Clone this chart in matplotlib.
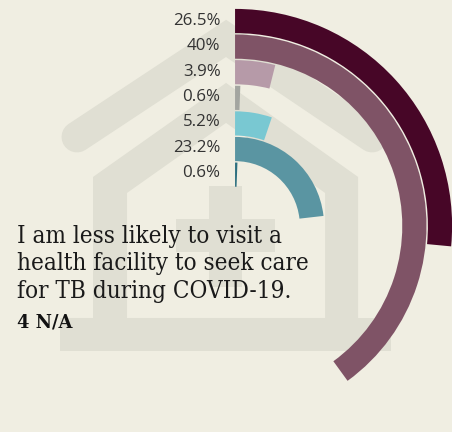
import numpy as np
import matplotlib
matplotlib.use("Agg")
import matplotlib.pyplot as plt
from matplotlib.patches import Polygon, Rectangle

labels = ["26.5%", "40%", "3.9%", "0.6%", "5.2%", "23.2%", "0.6%"]
values = [26.5, 40, 3.9, 0.6, 5.2, 23.2, 0.6]
colors = ["#470627", "#7f5366", "#b69aa8", "#a3a5a0", "#79c8d2", "#5a95a2", "#2d6f7f"]
title_lines = ["I am less likely to visit a", "health facility to seek care", "for TB during COVID-19."]
note = "4 N/A"

W, H = 452, 432
BG = "#f0eee2"
HOUSE = "#e0dfd3"
fig = plt.figure(figsize=((W+0.1)/100, (H+0.1)/100), dpi=100, facecolor=BG)

# background house, pixel coordinates
bg = fig.add_axes([0, 0, 1, 1], facecolor=BG)
bg.set_xlim(0, W); bg.set_ylim(H, 0); bg.axis("off")
bg.plot([77, 226, 372], [137, 38.5, 137], color=HOUSE, lw=22.3, solid_capstyle="round", solid_joinstyle="miter")
bg.add_patch(Polygon([(93, 177), (226, 83), (358, 177), (358, 351), (60, 351), (60, 318), (93, 318)], fc=HOUSE, ec="none"))
bg.add_patch(Polygon([(127, 193), (226, 123), (325, 193), (325, 318), (127, 318)], fc=BG, ec="none"))
bg.add_patch(Rectangle((60, 318), 331, 33, fc=HOUSE, ec="none"))
bg.add_patch(Rectangle((209, 186), 33, 101, fc=HOUSE, ec="none"))
bg.add_patch(Rectangle((176, 219), 99, 33, fc=HOUSE, ec="none"))

# rings
cx, cy, rmax = 235, 226, 230
ax = fig.add_axes([(cx-rmax)/W, 1-(cy+rmax)/H, 2*rmax/W, 2*rmax/H], projection="polar")
ax.patch.set_alpha(0)
ax.set_theta_zero_location("N"); ax.set_theta_direction(-1)
ax.set_ylim(0, rmax); ax.axis("off")
ring_h, ring_step, r_top = 24.2, 25.6, 217
label_top, label_step = 21, 25.3
for i, (v, c) in enumerate(zip(values, colors)):
    r1 = r_top - i*ring_step
    ax.bar(0, ring_h, width=v/100*2*np.pi, bottom=r1-ring_h, align="edge", color=c, linewidth=0)
    bg.text(220.5, label_top + i*label_step, labels[i], ha="right", va="center", fontsize=12.2, family="Open Sans", color="#333333", zorder=5)

ax2 = fig.add_axes([0, 0, 1, 1], facecolor="none")
ax2.set_xlim(0, W); ax2.set_ylim(H, 0); ax2.axis("off")
for y, line in zip([242.7, 270.2, 297.7], title_lines):
    ax2.text(17, y, line, ha="left", va="baseline", fontsize=17.4, family="DejaVu Serif", stretch="condensed", color="#1a1a1a")
ax2.text(17, 327.7, note, ha="left", va="baseline", fontsize=12.9, family="DejaVu Serif", weight="bold", color="#121212")
fig.savefig("out.png", dpi=100, facecolor=BG)
